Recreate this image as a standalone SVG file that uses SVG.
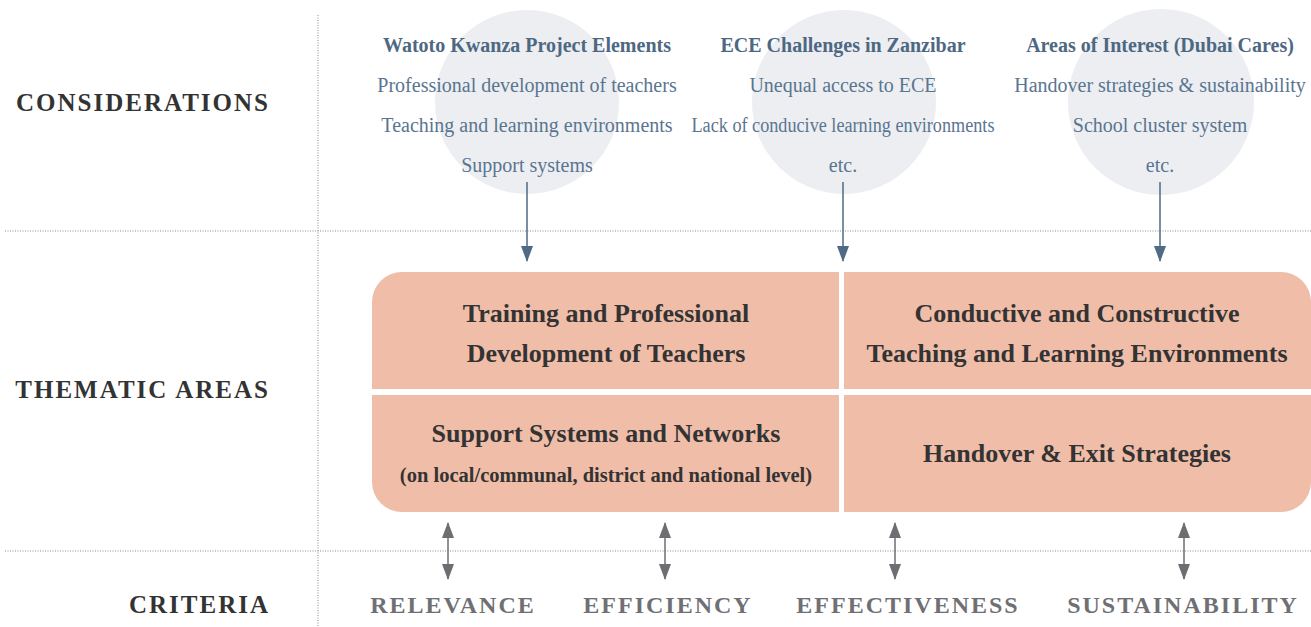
<svg xmlns="http://www.w3.org/2000/svg" width="1311" height="627" viewBox="0 0 1311 627">
<defs>
<style>
.grid{stroke:#8a8a8a;stroke-width:1;stroke-dasharray:1 1.5;fill:none}
.circ{fill:#eceef2}
.ct{font-family:"Liberation Serif",serif;font-size:20px;fill:#5a7590;text-anchor:middle}
.ctb{font-family:"Liberation Serif",serif;font-size:20px;font-weight:bold;fill:#4e6882;text-anchor:middle}
.cell{fill:#f0bda8}
.tt{font-family:"Liberation Serif",serif;font-size:26px;font-weight:bold;fill:#333;text-anchor:middle}
.ts{font-family:"Liberation Serif",serif;font-size:20.5px;font-weight:bold;fill:#333;text-anchor:middle}
.lab{font-family:"Liberation Serif",serif;font-size:25px;font-weight:bold;fill:#333;text-anchor:end;letter-spacing:2px}
.crit{font-family:"Liberation Serif",serif;font-size:24px;font-weight:bold;fill:#707074;text-anchor:middle;letter-spacing:2px}
.blue{stroke:#4e6a85;stroke-width:1.5;fill:none}
.gray{stroke:#6e6e72;stroke-width:1.5;fill:none}
</style>
<marker id="ab" viewBox="0 0 16 12" refX="15" refY="6" markerWidth="16" markerHeight="12" markerUnits="userSpaceOnUse" orient="auto-start-reverse">
<path d="M0,0 L16,6 L0,12 Z" fill="#4e6a85"/>
</marker>
<marker id="ag" viewBox="0 0 16 12" refX="15" refY="6" markerWidth="16" markerHeight="12" markerUnits="userSpaceOnUse" orient="auto-start-reverse">
<path d="M0,0 L16,6 L0,12 Z" fill="#6e6e72"/>
</marker>
</defs>
<g id="grid">
<line class="grid" x1="318" y1="15" x2="318" y2="627"/>
<line class="grid" x1="5" y1="231" x2="1311" y2="231"/>
<line class="grid" x1="5" y1="551" x2="1311" y2="551"/>
</g>
<g id="labels">
<text class="lab" x="270" y="111" letter-spacing="2.5">CONSIDERATIONS</text>
<text class="lab" x="270" y="398" letter-spacing="1.7">THEMATIC AREAS</text>
<text class="lab" x="270" y="613">CRITERIA</text>
</g>
<g id="consid-watoto">
<circle class="circ" cx="527" cy="102" r="92"/>
<text class="ctb" x="527" y="52">Watoto Kwanza Project Elements</text>
<text class="ct" x="527" y="92">Professional development of teachers</text>
<text class="ct" x="527" y="132">Teaching and learning environments</text>
<text class="ct" x="527" y="172">Support systems</text>
</g>
<g id="consid-ece">
<circle class="circ" cx="844" cy="102" r="92"/>
<text class="ctb" x="843" y="52">ECE Challenges in Zanzibar</text>
<text class="ct" x="843" y="92">Unequal access to ECE</text>
<text class="ct" x="843" y="132" textLength="303" lengthAdjust="spacingAndGlyphs">Lack of conducive learning environments</text>
<text class="ct" x="843" y="172">etc.</text>
</g>
<g id="consid-dubai">
<circle class="circ" cx="1161" cy="102" r="93"/>
<text class="ctb" x="1160" y="52">Areas of Interest (Dubai Cares)</text>
<text class="ct" x="1160" y="92">Handover strategies &amp; sustainability</text>
<text class="ct" x="1160" y="132">School cluster system</text>
<text class="ct" x="1160" y="172">etc.</text>
</g>
<g id="area-training">
<path class="cell" d="M402,272 H839 V389 H372 V302 A30,30 0 0 1 402,272 Z"/>
<text class="tt" x="606" y="322">Training and Professional</text>
<text class="tt" x="606" y="362">Development of Teachers</text>
</g>
<g id="area-environments">
<path class="cell" d="M844,272 H1281 A30,30 0 0 1 1311,302 V389 H844 Z"/>
<text class="tt" x="1077" y="322">Conductive and Constructive</text>
<text class="tt" x="1077" y="362">Teaching and Learning Environments</text>
</g>
<g id="area-support">
<path class="cell" d="M372,395 H839 V512 H402 A30,30 0 0 1 372,482 Z"/>
<text class="tt" x="606" y="442">Support Systems and Networks</text>
<text class="ts" x="606" y="482">(on local/communal, district and national level)</text>
</g>
<g id="area-handover">
<path class="cell" d="M844,395 H1311 V482 A30,30 0 0 1 1281,512 H844 Z"/>
<text class="tt" x="1077" y="462" font-size="25.5">Handover &amp; Exit Strategies</text>
</g>
<g id="criteria">
<text class="crit" x="453" y="613">RELEVANCE</text>
<text class="crit" x="668" y="613">EFFICIENCY</text>
<text class="crit" x="908" y="613">EFFECTIVENESS</text>
<text class="crit" x="1183" y="613" letter-spacing="2.4">SUSTAINABILITY</text>
</g>
<g id="connectors">
<line class="blue" x1="527" y1="182" x2="527" y2="261" marker-end="url(#ab)"/>
<line class="blue" x1="843" y1="182" x2="843" y2="261" marker-end="url(#ab)"/>
<line class="blue" x1="1160" y1="182" x2="1160" y2="261" marker-end="url(#ab)"/>
<line class="gray" x1="448" y1="523" x2="448" y2="579" marker-start="url(#ag)" marker-end="url(#ag)"/>
<line class="gray" x1="665" y1="523" x2="665" y2="579" marker-start="url(#ag)" marker-end="url(#ag)"/>
<line class="gray" x1="895" y1="523" x2="895" y2="579" marker-start="url(#ag)" marker-end="url(#ag)"/>
<line class="gray" x1="1184" y1="523" x2="1184" y2="579" marker-start="url(#ag)" marker-end="url(#ag)"/>
</g>
</svg>
